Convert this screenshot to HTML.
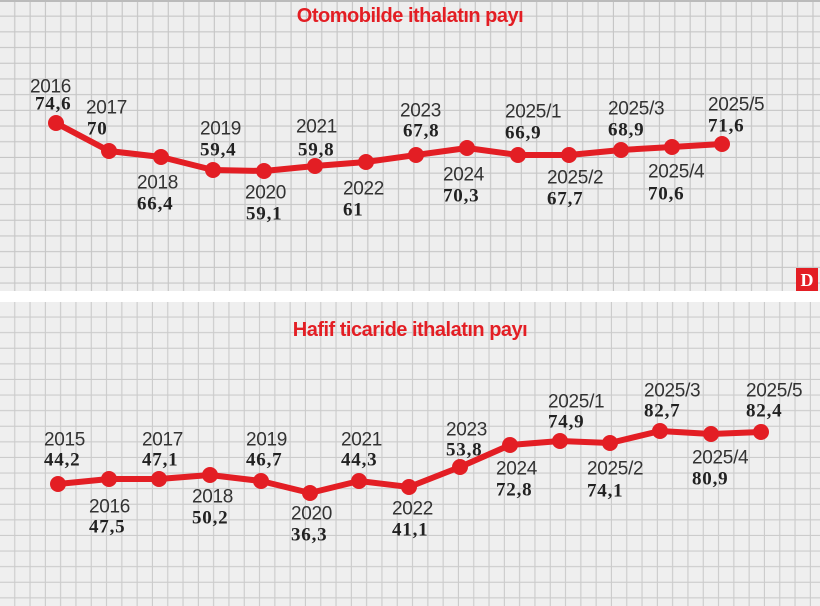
<!DOCTYPE html>
<html><head><meta charset="utf-8"><style>
html,body{margin:0;padding:0;background:#fff}
svg{display:block}
.y{font-family:"Liberation Sans",sans-serif;font-size:19px;fill:#333;dominant-baseline:central;letter-spacing:-0.3px}
.v{font-family:"Liberation Serif",serif;font-weight:bold;font-size:19px;fill:#222;letter-spacing:0.8px;dominant-baseline:central}
.t{font-family:"Liberation Sans",sans-serif;font-weight:bold;font-size:20px;fill:#e31e24;text-anchor:middle;dominant-baseline:central;letter-spacing:-0.5px}
</style></head><body>
<svg width="820" height="606" viewBox="0 0 820 606" xmlns="http://www.w3.org/2000/svg">
<defs>
<pattern id="g1" x="0" y="1" width="15.35" height="15.7" patternUnits="userSpaceOnUse">
<rect width="15.35" height="15.7" fill="#eeeeee"/>
<path d="M15 0V15.7M0 15.35H15.35" stroke="#c6c6c6" stroke-width="1.6"/>
</pattern>
<pattern id="g2" x="0" y="302" width="15.3" height="15.6" patternUnits="userSpaceOnUse">
<rect width="15.3" height="15.6" fill="#efefef"/>
<path d="M15 0V15.6M0 15.3H15.3" stroke="#cbcbcb" stroke-width="1.6"/>
</pattern>
</defs>
<rect x="0" y="0" width="820" height="291" fill="url(#g1)"/>
<rect x="0" y="0" width="820" height="2" fill="#bbb"/>
<rect x="0" y="302" width="820" height="304" fill="url(#g2)"/>
<text class="t" x="410" y="16">Otomobilde ithalatın payı</text>
<text class="t" x="410" y="330">Hafif ticaride ithalatın payı</text>
<rect x="796" y="268" width="22" height="23" fill="#e31e24"/>
<text x="807" y="280" font-family="Liberation Serif,serif" font-weight="bold" font-size="18" fill="#fff" text-anchor="middle" dominant-baseline="central">D</text>

<g stroke="#e31e24" stroke-width="6" fill="none" stroke-linejoin="round">
<polyline points="56,123 109,151 161,157 213,170 264,171 315,166 366,162 416,155 467,148 518,155 569,155 621,150 672,147 722,144"/>
<polyline points="58,484 109,479 159,479 210,475 261,481 310,493 359,481 409,487 460,467 510,445 560,441 610,443 660,431 711,434 761,432"/>
</g>
<g fill="#e31e24">
<circle cx="56" cy="123" r="8"/><circle cx="109" cy="151" r="8"/><circle cx="161" cy="157" r="8"/><circle cx="213" cy="170" r="8"/><circle cx="264" cy="171" r="8"/><circle cx="315" cy="166" r="8"/><circle cx="366" cy="162" r="8"/><circle cx="416" cy="155" r="8"/><circle cx="467" cy="148" r="8"/><circle cx="518" cy="155" r="8"/><circle cx="569" cy="155" r="8"/><circle cx="621" cy="150" r="8"/><circle cx="672" cy="147" r="8"/><circle cx="722" cy="144" r="8"/>
<circle cx="58" cy="484" r="8"/><circle cx="109" cy="479" r="8"/><circle cx="159" cy="479" r="8"/><circle cx="210" cy="475" r="8"/><circle cx="261" cy="481" r="8"/><circle cx="310" cy="493" r="8"/><circle cx="359" cy="481" r="8"/><circle cx="409" cy="487" r="8"/><circle cx="460" cy="467" r="8"/><circle cx="510" cy="445" r="8"/><circle cx="560" cy="441" r="8"/><circle cx="610" cy="443" r="8"/><circle cx="660" cy="431" r="8"/><circle cx="711" cy="434" r="8"/><circle cx="761" cy="432" r="8"/>
</g>

<text class="y" x="30" y="87">2016</text><text class="v" x="35" y="104">74,6</text>
<text class="y" x="86" y="108">2017</text><text class="v" x="87" y="129">70</text>
<text class="y" x="137" y="183">2018</text><text class="v" x="137" y="204">66,4</text>
<text class="y" x="200" y="129">2019</text><text class="v" x="200" y="150">59,4</text>
<text class="y" x="245" y="193">2020</text><text class="v" x="246" y="214">59,1</text>
<text class="y" x="296" y="127">2021</text><text class="v" x="298" y="150">59,8</text>
<text class="y" x="343" y="189">2022</text><text class="v" x="343" y="210">61</text>
<text class="y" x="400" y="111">2023</text><text class="v" x="403" y="131">67,8</text>
<text class="y" x="443" y="175">2024</text><text class="v" x="443" y="196">70,3</text>
<text class="y" x="505" y="112">2025/1</text><text class="v" x="505" y="133">66,9</text>
<text class="y" x="547" y="178">2025/2</text><text class="v" x="547" y="199">67,7</text>
<text class="y" x="608" y="109">2025/3</text><text class="v" x="608" y="130">68,9</text>
<text class="y" x="648" y="172">2025/4</text><text class="v" x="648" y="194">70,6</text>
<text class="y" x="708" y="105">2025/5</text><text class="v" x="708" y="126">71,6</text>

<text class="y" x="44" y="440">2015</text><text class="v" x="44" y="460">44,2</text>
<text class="y" x="89" y="507">2016</text><text class="v" x="89" y="527">47,5</text>
<text class="y" x="142" y="440">2017</text><text class="v" x="142" y="460">47,1</text>
<text class="y" x="192" y="497">2018</text><text class="v" x="192" y="518">50,2</text>
<text class="y" x="246" y="440">2019</text><text class="v" x="246" y="460">46,7</text>
<text class="y" x="291" y="514">2020</text><text class="v" x="291" y="535">36,3</text>
<text class="y" x="341" y="440">2021</text><text class="v" x="341" y="460">44,3</text>
<text class="y" x="392" y="509">2022</text><text class="v" x="392" y="530">41,1</text>
<text class="y" x="446" y="430">2023</text><text class="v" x="446" y="450">53,8</text>
<text class="y" x="496" y="469">2024</text><text class="v" x="496" y="490">72,8</text>
<text class="y" x="548" y="402">2025/1</text><text class="v" x="548" y="422">74,9</text>
<text class="y" x="587" y="469">2025/2</text><text class="v" x="587" y="491">74,1</text>
<text class="y" x="644" y="391">2025/3</text><text class="v" x="644" y="411">82,7</text>
<text class="y" x="692" y="458">2025/4</text><text class="v" x="692" y="479">80,9</text>
<text class="y" x="746" y="391">2025/5</text><text class="v" x="746" y="411">82,4</text>
</svg>
</body></html>
